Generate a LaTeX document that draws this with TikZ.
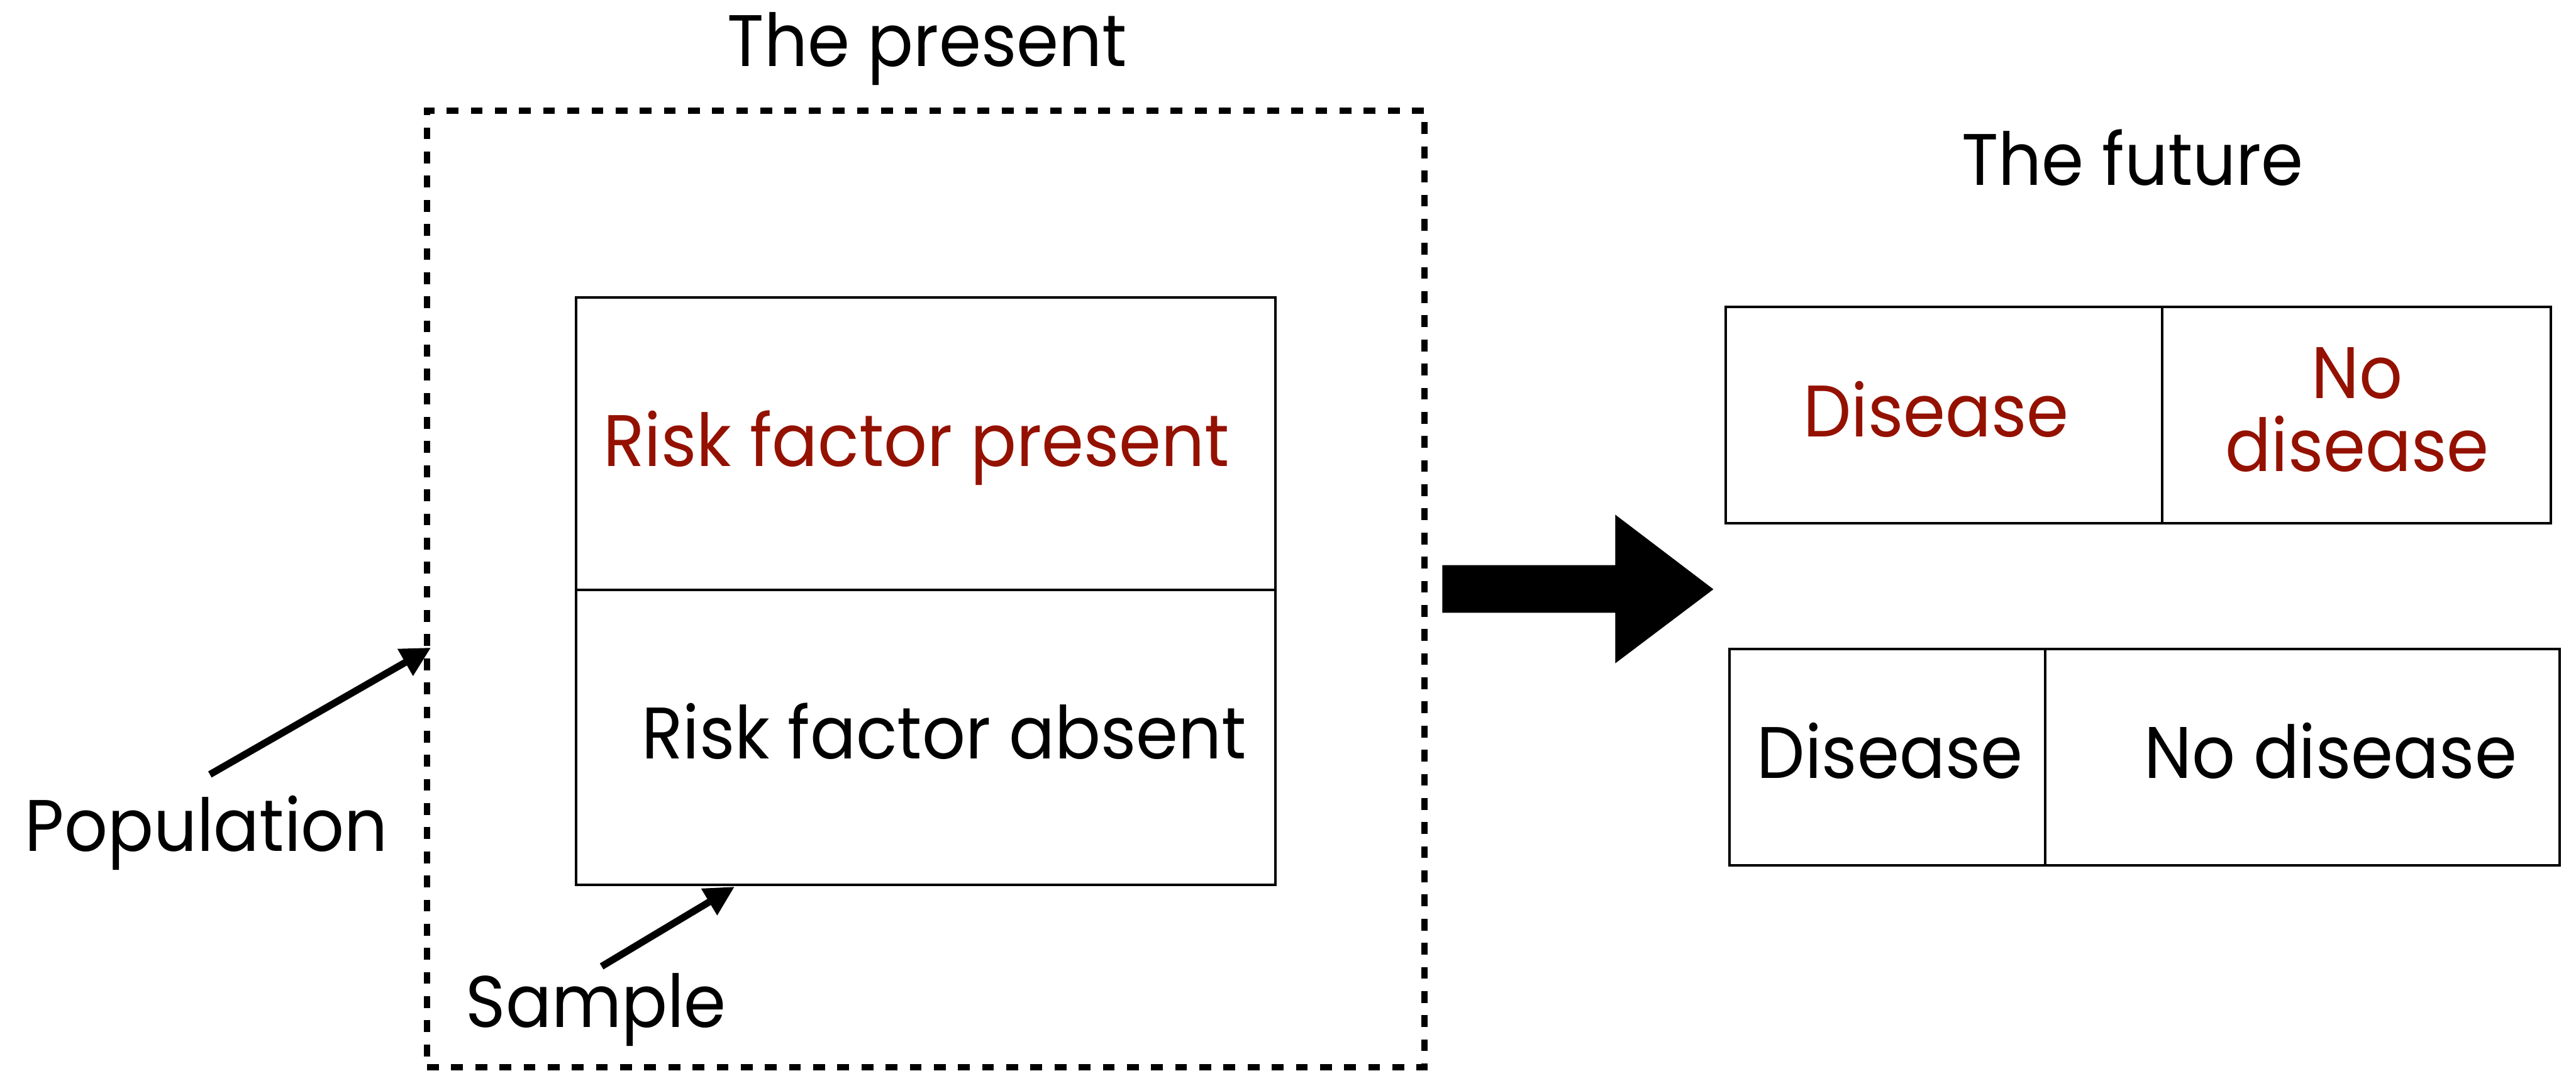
\documentclass[tikz,border=0pt]{standalone}
\usepackage{fontspec}
\setmainfont{Poppins}[FakeStretch=0.93]
\usetikzlibrary{arrows.meta}

\definecolor{riskred}{RGB}{148,17,0}

\tikzset{
    cell/.style={draw, line width=0.045cm, inner sep=0pt},
    frame/.style={draw, line width=0.11cm, dash pattern=on 0.21cm off 0.22cm, inner sep=0pt},
    txt/.style={font=\fontsize{37}{37.2}\selectfont, inner sep=0pt, anchor=base},
    pointer/.style={line width=0.125cm, -{Triangle[length=0.53cm,width=0.52cm]}},
}

\begin{document}
\begin{tikzpicture}
    \useasboundingbox (0,0) rectangle (45.90,-19.08);

    % The present
    \node[txt] (present) at (16.52,-1.18) {The present};
    \node[frame, minimum width=17.77cm, minimum height=17.05cm] (popbox) at (16.495,-10.495) {};

    \node[cell, minimum width=12.46cm, minimum height=5.21cm] (rfp) at (16.50,-7.905) {};
    \node[cell, minimum width=12.46cm, minimum height=5.26cm] (rfa) at (16.50,-13.14) {};
    \node[txt, text=riskred] (rfptext) at (16.33,-8.31) {Risk factor present};
    \node[txt] (rfatext) at (16.82,-13.52) {Risk factor absent};

    % Labels and pointers
    \node[txt] (population) at (3.68,-15.17) {Population};
    \node[txt] (sample) at (10.62,-18.30) {Sample};
    \coordinate (poptail) at (3.74,-13.80);
    \coordinate (poptip) at (7.68,-11.54);
    \coordinate (samptail) at (10.72,-17.22);
    \coordinate (samptip) at (13.09,-15.80);
    \draw[pointer] (poptail) -- (poptip);
    \draw[pointer] (samptail) -- (samptip);

    % Big arrow
    \fill (25.70,-10.07) -- (28.78,-10.07) -- (28.78,-9.17) -- (30.53,-10.50)
        -- (28.78,-11.82) -- (28.78,-10.92) -- (25.70,-10.92) -- cycle;

    % The future
    \node[txt] (future) at (38.00,-3.30) {The future};
    \foreach \name/\x/\y/\w/\h in {dtop/34.64/-7.395/7.78/3.85, ndtop/41.99/-7.395/6.92/3.85,
                                   dbot/33.63/-13.49/5.62/3.86, ndbot/41.025/-13.49/9.17/3.86} {
        \node[cell, minimum width=\w cm, minimum height=\h cm] (\name) at (\x,\y) {};
    }
    \node[txt, text=riskred] (dtoptext) at (34.50,-7.78) {Disease};
    \node[txt, text=riskred, align=center, anchor=north] (ndtoptext) at (42.00,-6.18) {No\\disease};
    \node[txt] (dbottext) at (33.675,-13.87) {Disease};
    \node[txt] (ndbottext) at (41.525,-13.87) {No disease};
\end{tikzpicture}
\end{document}
